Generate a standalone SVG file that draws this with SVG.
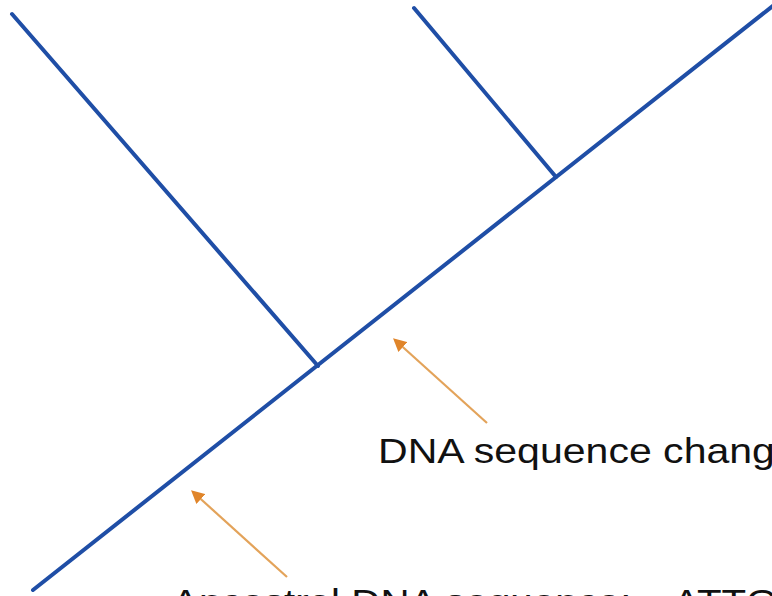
<svg xmlns="http://www.w3.org/2000/svg" width="772" height="596" viewBox="0 0 772 596">
  <defs>
    <style>
      .branch { stroke: #1f4ea6; stroke-width: 4; stroke-linecap: round; fill: none; }
      .arrow { stroke: #e3a35a; stroke-width: 2.2; fill: none; marker-end: url(#ah); }
      .label { font-family: "Liberation Sans", Arial, sans-serif; font-size: 36px; fill: #111; }
    </style>
    <marker id="ah" viewBox="0 0 10 10" refX="8" refY="5" markerWidth="6" markerHeight="6" markerUnits="strokeWidth" orient="auto">
      <path d="M0,0 L10,5 L0,10 z" fill="#e0852a"/>
    </marker>
  </defs>
  <rect width="772" height="596" fill="#ffffff"/>
  <g id="tree">
    <line class="branch" x1="33" y1="590" x2="774" y2="5"/>
    <line class="branch" x1="12" y1="14" x2="318" y2="366"/>
    <line class="branch" x1="414" y1="8" x2="556" y2="177"/>
  </g>
  <g id="connectors">
    <line class="arrow" x1="287" y1="577" x2="193" y2="492"/>
    <line class="arrow" x1="487" y1="423" x2="395" y2="340"/>
  </g>
  <g id="label-change">
    <text class="label" transform="translate(378,463) scale(1.14,1)">DNA sequence chang</text>
  </g>
  <g id="label-ancestral">
    <text class="label" transform="translate(172,614) scale(1.12,1)">Ancestral DNA sequence:</text>
    <text class="label" transform="translate(673,614) scale(1.12,1)">ATTG</text>
  </g>
</svg>
